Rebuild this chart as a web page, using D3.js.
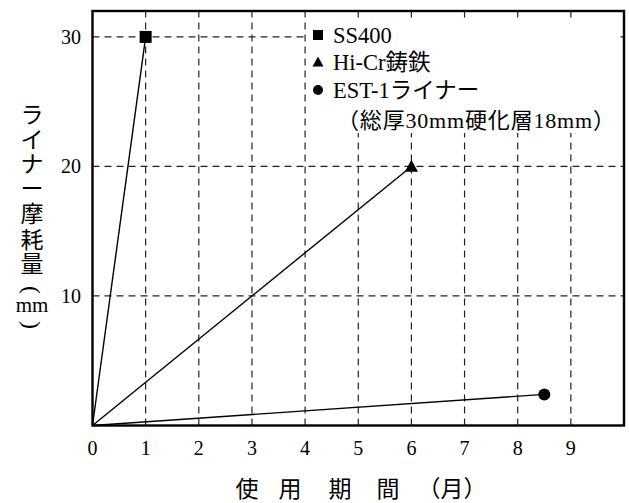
<!DOCTYPE html>
<html><head><meta charset="utf-8">
<script src="https://cdn.jsdelivr.net/npm/d3@7"></script>
<style>body{margin:0;background:#fff}</style>
</head><body>
<svg id="c" width="629" height="503"></svg>
<script>
const seriesNames = ["SS400", "Hi-Cr鋳鉄", "EST-1ライナー"];
const seriesX = [1, 6, 8.5];
const seriesY = [30, 20, 2.4];
const markerShapes = ["square", "triangle", "circle"];
const xTicks = [0,1,2,3,4,5,6,7,8,9];
const yTicks = [10,20,30];
const legendNote = "（総厚30mm硬化層18mm）";
const yTitleChars = ["ラ","イ","ナ","ー","摩","耗","量","(","mm",")"];
const xTitleChars = ["使","用","期","間","（月）"];

const serif = "'Liberation Serif','Noto Sans CJK JP',serif";
const svg = d3.select("#c");
const x = d3.scaleLinear().domain([0,10]).range([92.5,624]);
const y = d3.scaleLinear().domain([0,32]).range([425.5,11]);

// grid
const g = svg.append("g");
g.selectAll("line.vx").data(xTicks.filter(d=>d>0)).enter().append("line")
  .attr("x1",d=>x(d)).attr("x2",d=>x(d)).attr("y1",y(0)).attr("y2",y(32))
  .attr("stroke","#222").attr("stroke-width",1.2).attr("stroke-dasharray","7,5");
g.selectAll("line.hy").data(yTicks).enter().append("line")
  .attr("x1",x(0)).attr("x2",x(10)).attr("y1",d=>y(d)).attr("y2",d=>y(d))
  .attr("stroke","#222").attr("stroke-width",1.2).attr("stroke-dasharray","7,5");

// legend background
svg.append("rect").attr("x",307).attr("y",18).attr("width",313).attr("height",115).attr("fill","#fff");

// frame
svg.append("rect").attr("x",x(0)).attr("y",y(32)).attr("width",x(10)-x(0)).attr("height",y(0)-y(32))
  .attr("fill","none").attr("stroke","#000").attr("stroke-width",2.4);

// lines
seriesX.forEach((sx,i)=>{
  svg.append("line").attr("x1",x(0)).attr("y1",y(0)).attr("x2",x(sx)).attr("y2",y(seriesY[i]))
    .attr("stroke","#000").attr("stroke-width",1.4);
});
function marker(sel, shape, cx, cy, s){
  if(shape==="square") sel.append("rect").attr("x",cx-s/2).attr("y",cy-s/2).attr("width",s).attr("height",s).attr("fill","#000");
  else if(shape==="triangle") sel.append("path").attr("d",`M${cx},${cy-s*0.55}L${cx+s*0.55},${cy+s*0.45}L${cx-s*0.55},${cy+s*0.45}Z`).attr("fill","#000");
  else sel.append("circle").attr("cx",cx).attr("cy",cy).attr("r",s/2).attr("fill","#000");
}
seriesX.forEach((sx,i)=>marker(svg, markerShapes[i], x(sx), y(seriesY[i]), 12));

// tick labels
svg.selectAll("text.xt").data(xTicks).enter().append("text")
  .attr("x",d=>x(d)).attr("y",455).attr("text-anchor","middle")
  .attr("font-family",serif).attr("font-size",20).text(d=>d);
svg.selectAll("text.yt").data(yTicks).enter().append("text")
  .attr("x",81).attr("y",d=>y(d)+7).attr("text-anchor","end")
  .attr("font-family",serif).attr("font-size",20).text(d=>d);

// legend
const ly = [35, 62, 90];
seriesNames.forEach((n,i)=>{
  marker(svg, markerShapes[i], 318, ly[i], 10);
  svg.append("text").attr("x",333).attr("y",ly[i]+8).attr("font-family",serif).attr("font-size",22.5).text(n);
});
svg.append("text").attr("x",337).attr("y",128).attr("font-family",serif).attr("font-size",22).attr("textLength",278).text(legendNote);

// y title
const yPos = [115,140,164,189,214,240,264,290,305,325];
yTitleChars.forEach((c,i)=>{
  const t = svg.append("text").attr("text-anchor","middle").attr("dominant-baseline","central")
    .attr("font-family",serif).attr("font-size",c==="mm"?21:23).text(c);
  if(c==="("||c===")"){
    t.attr("x",0).attr("y",0).attr("transform",`translate(32,${yPos[i]}) rotate(90)`).attr("font-size",24);
  } else {
    t.attr("x",32).attr("y",yPos[i]);
  }
});
// x title
const xPos = [247,290,340,388,452];
xTitleChars.forEach((c,i)=>{
  svg.append("text").attr("x",xPos[i]).attr("y",497).attr("text-anchor","middle")
    .attr("font-family",serif).attr("font-size",23).text(c);
});
</script>
</body></html>
